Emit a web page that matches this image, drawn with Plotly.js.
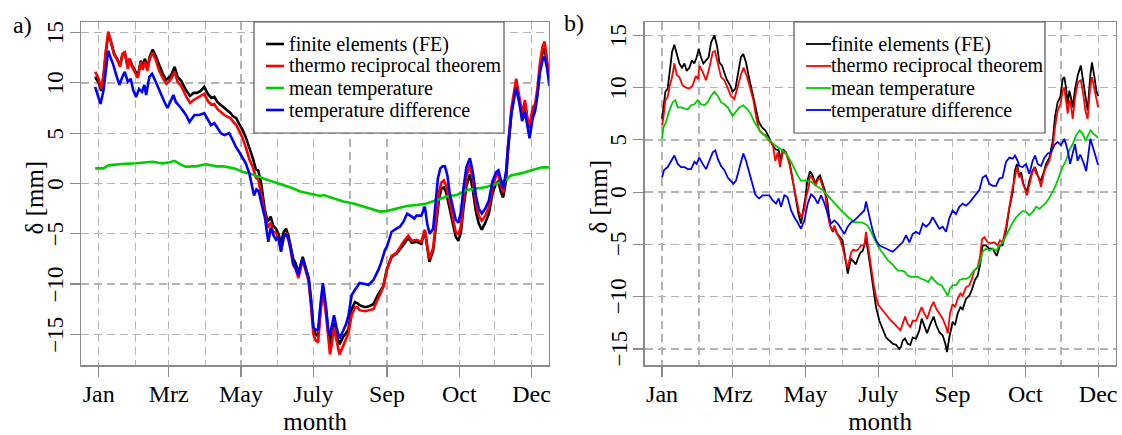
<!DOCTYPE html>
<html>
<head>
<meta charset="utf-8">
<script src="https://cdn.plot.ly/plotly-3.0.1.min.js"></script>
<style>
  html, body { margin: 0; padding: 0; background: #ffffff; }
  #chart { width: 1122px; height: 435px; }
</style>
</head>
<body>
<div id="chart"></div>
<script>
// Day-of-year axis: ticks at month starts, labels as printed on the axis
const monthTickDays = [0, 59, 120, 181, 243, 304, 365];
const monthTickText = ['Jan', 'Mrz', 'May', 'July', 'Sep', 'Oct', 'Dec'];
const monthGridDays = [31, 90, 151, 212, 273, 334];
const deltaTicks = [-15, -10, -5, 0, 5, 10, 15];
const deltaTickText = ['\u221215', '\u221210', '\u22125', '0', '5', '10', '15'];

const seriesNames = ['finite elements (FE)', 'thermo reciprocal theorem', 'mean temperature', 'temperature difference'];
const seriesColors = ['#000000', '#ff0000', '#00cd00', '#0000ff'];

// Panel a) deflection δ [mm] per day: [day, value]
const feA = [[-3,10.6],[0,10.0],[2,9.2],[4,10.5],[6,13.0],[8,14.8],[10,14.2],[13,12.9],[16,12.3],[18,11.7],[20,12.8],[22,13.0],[24.5,11.6],[26,12.4],[28,11.8],[30,11.3],[33,10.7],[35.5,12.2],[37,11.6],[39,12.4],[41,11.4],[43,12.6],[45.5,13.3],[48,12.7],[51,11.7],[54,10.9],[57,10.3],[60,10.6],[62,11.0],[64,11.6],[66.5,10.6],[69.5,10.2],[73.5,9.3],[77,8.7],[80,9.0],[83,9.0],[86,9.2],[89,9.6],[92,8.9],[95,8.5],[97.5,8.6],[100,8.1],[103,7.8],[106,7.5],[109,7.2],[111,7.0],[113,6.7],[116,6.5],[118.5,5.9],[121,5.4],[124,4.6],[127,3.6],[130,2.5],[132.5,1.4],[134.5,1.3],[137,0.0],[140,-2.6],[142.5,-3.8],[145,-3.3],[147,-4.2],[149.5,-4.5],[151.5,-5.0],[153.7,-5.9],[156,-4.8],[158,-4.5],[160,-5.2],[162,-6.2],[164,-7.5],[166,-7.9],[168.4,-8.9],[170,-8.2],[172,-7.3],[175,-8.6],[177,-9.4],[179,-11.7],[181,-14.4],[183,-15.0],[185,-15.2],[187,-12.5],[189,-10.3],[191.7,-12.7],[193.5,-15.0],[195,-16.2],[196.5,-15.0],[198.4,-13.9],[200.5,-15.0],[203,-16.0],[206.3,-15.2],[208.5,-14.9],[210.5,-14.5],[213.3,-12.5],[216,-11.8],[218,-11.9],[220,-12.1],[224.5,-12.3],[228,-12.2],[231.6,-12.0],[235.8,-11.0],[240,-10.2],[243,-8.5],[247,-7.3],[251,-7.0],[254,-6.6],[257,-6.1],[261,-5.4],[264,-5.9],[268,-5.8],[272,-6.0],[275,-4.7],[278.8,-7.8],[282,-6.7],[285,-3.6],[287,-1.5],[289,-0.5],[291,-0.4],[293,-0.9],[296,-2.5],[299,-4.3],[301,-5.3],[303.3,-5.7],[305.5,-4.8],[307.5,-2.5],[310,-0.3],[313,0.9],[315.5,-0.7],[318,-2.8],[320.5,-4.0],[323,-4.6],[326,-3.9],[329,-3.0],[332,-1.0],[335,0.0],[337,0.2],[339,-0.8],[341,-1.4],[343.5,0.3],[345,3.0],[348,7.0],[352,9.9],[355,8.0],[357,6.8],[359.4,7.9],[361.8,6.0],[363.3,5.5],[366,7.2],[368,7.6],[370,9.0],[372,11.4],[374.2,13.0],[376,13.4],[378,11.8],[380,10.3]];
const trA = [[-3,11.1],[0,10.4],[2,9.4],[4,10.7],[6,13.2],[8,15.1],[10,14.3],[13,12.8],[16,12.2],[18,11.6],[20,12.9],[22,13.1],[24.5,11.4],[26,12.4],[28,11.6],[30,11.1],[33,10.5],[35.5,12.1],[37,11.3],[39,12.1],[41,11.2],[43,12.4],[45.5,13.0],[48,12.3],[51,11.2],[54,10.5],[57,9.9],[60,10.2],[62,10.6],[64,11.1],[66.5,10.1],[69.5,9.7],[73.5,8.7],[77,8.0],[80,8.3],[83,8.5],[86,8.7],[89,8.9],[92,8.2],[95,7.8],[97.5,7.9],[100,7.4],[103,7.1],[106,6.8],[109,6.6],[111,6.5],[113,6.2],[116,5.8],[118.5,5.2],[121,4.6],[124,3.6],[127,2.4],[130,1.6],[132.5,0.6],[134.5,0.4],[137,-1.2],[140,-3.2],[142.5,-4.4],[145,-3.9],[147,-4.8],[149.5,-4.9],[151.5,-5.5],[153.7,-6.7],[156,-5.4],[158,-4.9],[160,-5.5],[162,-6.8],[164,-8.1],[166,-8.5],[168.4,-9.4],[170,-8.6],[172,-7.6],[175,-8.9],[177,-9.7],[179,-12.2],[181,-15.0],[183,-15.6],[185,-15.8],[187,-12.9],[189,-10.6],[191.7,-13.1],[193.5,-15.6],[195,-17.0],[196.5,-16.0],[198.4,-14.3],[200.5,-15.6],[203,-17.0],[206.3,-16.1],[208.5,-15.5],[210.5,-14.9],[213.3,-13.1],[216,-12.3],[218,-12.3],[220,-12.6],[224.5,-12.7],[228,-12.6],[231.6,-12.5],[235.8,-11.4],[240,-10.3],[243,-8.6],[247,-7.2],[251,-6.9],[254,-6.3],[257,-5.8],[261,-5.2],[264,-5.7],[268,-5.6],[272,-5.8],[275,-4.6],[278.8,-7.5],[282,-6.4],[285,-3.0],[287,-0.8],[289,0.1],[291,0.3],[293,-0.2],[296,-2.0],[299,-3.9],[301,-4.8],[303.3,-5.1],[305.5,-4.2],[307.5,-1.8],[310,0.6],[313,1.9],[315.5,0.3],[318,-2.0],[320.5,-3.2],[323,-3.7],[326,-3.2],[329,-2.4],[332,-0.4],[335,0.7],[337,1.0],[339,-0.2],[341,-0.9],[343.5,1.0],[345,3.6],[348,7.5],[352,10.4],[355,8.4],[357,7.0],[359.4,8.3],[361.8,6.3],[363.3,5.7],[366,7.6],[368,7.9],[370,9.5],[372,11.9],[374.2,13.6],[376,14.1],[378,12.4],[380,10.6]];
const meanA = [[-3,1.5],[0,1.5],[4,1.5],[8,1.8],[15,1.9],[22,1.95],[31.5,2.0],[38,2.05],[45.5,2.15],[50,2.05],[54,2.0],[60,2.1],[64,2.25],[68,1.95],[73.6,1.65],[78,1.7],[82,1.7],[86,1.8],[90.5,1.9],[95,1.8],[99,1.7],[105,1.7],[110,1.6],[114,1.5],[118.6,1.3],[123,1.1],[127,1.0],[131,0.8],[135.5,0.65],[140,0.45],[144,0.3],[148,0.15],[152,0.0],[158,-0.2],[163,-0.45],[169.8,-0.8],[178,-1.0],[187,-1.25],[189.4,-1.15],[198,-1.5],[206.3,-1.8],[214.7,-2.0],[223.2,-2.3],[231.6,-2.65],[237.2,-2.8],[242.8,-2.75],[251.3,-2.5],[259.7,-2.25],[268,-2.15],[276.6,-2.0],[285,-1.65],[293.4,-1.3],[301.8,-1.15],[310.3,-0.65],[318.7,-0.5],[327,-0.35],[335.6,0.0],[344,0.4],[347.4,0.8],[356,1.0],[365,1.3],[374,1.6],[380,1.6]];
const diffA = [[-3,9.6],[0,8.3],[1.5,7.9],[4,9.2],[6,11.5],[8,13.2],[10,12.5],[12,11.9],[14.5,10.9],[17.4,9.8],[20,10.6],[22,11.1],[24.5,10.1],[27,10.4],[29,9.3],[31.5,8.6],[34,9.4],[36.5,9.1],[38.5,9.8],[40,8.8],[42.7,10.6],[45,10.9],[47,10.4],[49.7,9.6],[52.6,8.8],[55.4,8.1],[58,7.5],[61,8.3],[63,8.8],[65,8.1],[69.4,7.5],[73.6,6.8],[76.5,6.1],[80.7,6.8],[85,6.8],[89,7.0],[92,6.3],[94.7,5.8],[97.5,6.0],[100,5.6],[103,5.0],[106,4.8],[110,5.0],[113,4.3],[115.8,3.6],[118.6,3.1],[121,2.6],[124,2.0],[127,1.0],[129,0.0],[131,-1.2],[133,-0.6],[135,-0.8],[137,-1.9],[140,-3.3],[143,-5.8],[145,-4.4],[147.5,-5.2],[149.5,-5.6],[151.5,-5.3],[153.7,-6.8],[156,-5.3],[158,-5.0],[160,-5.6],[162,-6.5],[164,-8.0],[166,-8.4],[168.4,-9.1],[170,-8.2],[172,-7.5],[175,-8.7],[177,-9.4],[179,-11.5],[181,-14.3],[183,-14.6],[185,-14.5],[187,-12.0],[189,-9.9],[191.7,-12.3],[193.5,-14.6],[195,-15.1],[196.5,-14.2],[198.4,-13.1],[200.5,-14.3],[203,-15.4],[206.3,-14.6],[208.5,-14.0],[210.5,-13.2],[213.3,-11.1],[216,-10.6],[218,-10.2],[220,-9.9],[224.5,-10.0],[227.4,-10.1],[231.6,-9.6],[235.8,-8.6],[238,-7.9],[241.4,-6.6],[243,-6.3],[247,-4.8],[251,-4.5],[254,-4.3],[257,-3.8],[260,-3.0],[264,-3.3],[266,-3.5],[268,-3.2],[272,-3.2],[275,-2.3],[277,-4.0],[279,-5.0],[282,-4.5],[284,-2.0],[286,0.5],[288,1.5],[290,1.7],[292,1.7],[294,0.8],[296,-1.0],[299,-2.6],[301,-3.6],[303.3,-3.9],[305.5,-2.8],[307.5,-0.5],[310,1.6],[313,2.5],[315.5,1.1],[318,-1.2],[320.5,-2.5],[323,-3.0],[326,-2.5],[329,-1.7],[332,0.2],[335,1.1],[337,1.3],[339,0.4],[341,-0.5],[343.5,1.2],[345,3.5],[348,7.0],[352,9.5],[355,7.8],[357,6.2],[359.4,7.1],[361.8,5.3],[363.3,4.5],[366,6.5],[368,7.2],[370,8.8],[372,11.0],[374.2,12.2],[376,12.6],[378,11.5],[380,9.7]];

// Panel b) deflection δ [mm] per day: [day, value]
const feB = [[0,7.0],[1,7.8],[2.8,9.6],[4.7,9.9],[6.7,11.6],[8.4,13.4],[10.3,14.1],[12.3,13.1],[14.5,12.3],[16.7,11.9],[18.7,12.3],[20.6,11.6],[22.9,11.9],[25,12.6],[27,12.3],[29,12.9],[30.7,13.7],[32.6,12.9],[34.6,12.3],[36.8,12.6],[39,12.9],[41,14.3],[43.8,15.0],[46,14.0],[48,12.4],[50.2,12.1],[52.2,11.5],[54,10.8],[57,10.2],[59,9.6],[61.4,9.9],[63.3,11.3],[66,12.9],[68,13.2],[70.3,12.4],[72.5,11.1],[74.5,10.0],[76.4,9.1],[78.7,7.8],[81,6.7],[83.7,6.2],[86.5,5.9],[89.3,5.3],[92,4.6],[94.8,4.1],[97.6,4.0],[99.6,3.0],[101,4.1],[103.8,3.8],[106.6,2.9],[109,1.4],[112,-0.5],[114,-2.0],[116.3,-3.0],[118,-2.0],[120,-0.5],[121.5,1.0],[123.8,2.0],[126,1.6],[128.3,0.8],[130.5,1.4],[132.2,1.6],[134.5,0.8],[136.7,0.0],[138.5,-1.0],[140.6,-3.2],[143,-3.8],[144.5,-3.3],[146,-3.9],[148.5,-4.3],[151,-4.6],[153,-6.0],[155.4,-7.8],[157,-6.9],[158.2,-6.4],[160,-6.6],[162.3,-6.9],[164,-6.3],[166,-5.8],[168,-5.6],[170.7,-4.5],[172.6,-5.8],[174.9,-7.5],[177,-9.4],[179.1,-11.0],[181.9,-12.3],[184.7,-13.2],[187.5,-13.9],[190.3,-14.2],[193,-14.5],[195.9,-14.6],[198.6,-15.0],[200,-14.8],[201.4,-14.2],[203.3,-14.0],[205.6,-14.5],[207.8,-14.6],[209.8,-13.9],[212.6,-14.0],[215.4,-13.2],[217.3,-12.1],[219.5,-12.9],[221.8,-13.5],[224.6,-12.6],[227.3,-11.9],[229.4,-12.7],[232.1,-13.4],[234.9,-13.7],[237.1,-14.5],[238.5,-15.3],[240.4,-13.9],[243.2,-12.4],[245.2,-12.7],[247.4,-11.6],[249.7,-11.0],[251.6,-11.2],[254.4,-10.2],[257.2,-9.9],[259.1,-9.4],[261.9,-8.4],[264.1,-8.0],[266.4,-6.8],[268.3,-5.1],[271.1,-5.1],[273.9,-5.4],[276.7,-5.4],[280.1,-6.1],[282.8,-5.1],[285,-5.1],[287.9,-3.7],[290.6,-1.6],[293.5,0.0],[295.4,2.1],[297,2.7],[299.1,1.5],[300.5,1.9],[302.4,0.8],[305.4,0.0],[307.4,1.1],[310.2,2.1],[312.2,2.4],[314.4,1.6],[316.6,1.0],[319.5,1.9],[321.4,2.7],[324.2,3.3],[327,4.9],[328.9,7.2],[331.1,8.6],[333.4,9.1],[335.3,10.8],[336.7,11.0],[338.1,10.0],[339.5,8.4],[340.9,9.7],[342.3,9.0],[343.7,8.1],[345.6,9.8],[348,11.2],[350.5,12.1],[352.5,10.7],[354.3,9.1],[356.2,7.8],[358.3,11.0],[359.8,12.4],[361.9,11.0],[363.5,9.7],[365,9.2]];
const trB = [[0,6.4],[1,7.0],[2.8,8.8],[4.7,9.1],[6.7,10.3],[8.4,11.0],[10.3,12.3],[12.3,11.2],[14.5,11.0],[17.2,10.2],[20,10.0],[22.9,9.9],[25.6,10.2],[28.3,11.1],[30.2,10.8],[31.3,12.1],[34,11.5],[36.8,10.7],[39.6,11.9],[42.4,13.4],[44.3,13.5],[46.6,12.3],[49.4,11.0],[52.2,10.7],[55,10.0],[57.7,9.2],[60.5,8.9],[63.3,10.2],[66.2,11.3],[68.3,11.9],[70.9,11.1],[73.6,10.0],[76.4,8.8],[78.7,7.2],[81.4,5.9],[84.2,5.6],[87,5.4],[89.8,4.9],[92.6,4.6],[94.8,3.0],[96.8,3.8],[98.7,2.4],[101,3.8],[103.8,3.7],[106.6,2.7],[109.4,1.1],[112,-0.5],[114.4,-1.75],[116.3,-2.4],[119,-1.75],[120.5,-0.5],[122.8,0.5],[123.8,1.6],[126,1.3],[128.3,0.6],[130.5,1.2],[132.2,1.3],[134.5,0.5],[136.7,-0.3],[138.6,-2.1],[140.6,-3.2],[142.8,-3.7],[144.2,-3.2],[147,-4.1],[149,-4.5],[151.2,-5.3],[153.4,-6.5],[155.4,-7.2],[158.2,-5.8],[160,-5.5],[162.3,-5.6],[164,-5.5],[166.5,-5.1],[169.3,-5.1],[170.7,-3.8],[172.6,-5.3],[174.9,-7.2],[177.1,-8.8],[179.1,-10.0],[181,-10.8],[183.3,-11.1],[186,-11.5],[188.9,-11.9],[191.7,-12.3],[194.5,-12.6],[197.2,-12.9],[199.4,-13.2],[201.4,-12.6],[203.4,-11.9],[205.6,-12.6],[207.8,-12.9],[209.8,-12.3],[212.6,-12.3],[215.4,-11.5],[217.3,-11.0],[219.5,-11.6],[221.8,-12.1],[225.1,-11.0],[227.3,-10.5],[229.3,-11.1],[232.1,-11.6],[234.9,-12.1],[237.7,-12.9],[239.1,-13.5],[241,-11.6],[243.2,-10.7],[245.2,-11.0],[247.4,-10.2],[249.7,-9.7],[251.6,-9.9],[254.4,-9.1],[257.2,-8.9],[259.1,-8.4],[261.4,-7.5],[264.1,-7.2],[266.1,-6.2],[267.8,-4.5],[269.7,-4.3],[272.5,-4.8],[275.3,-4.9],[278.1,-4.8],[280.9,-5.1],[282.8,-4.6],[285,-4.8],[287.9,-3.3],[290.6,-1.4],[293.5,0.5],[295.4,1.4],[297,2.4],[299,1.4],[300.5,1.6],[302,0.8],[303.5,0.4],[305.4,-0.3],[307.4,0.8],[309.6,1.75],[311.6,2.4],[313,1.8],[315,1.5],[317.2,0.5],[319.5,1.75],[321.4,2.4],[324.2,3.0],[326.9,4.3],[328.9,6.2],[331.1,7.8],[333.4,8.4],[335.3,9.7],[336.7,10.0],[338.1,8.4],[339.5,7.5],[340.9,8.8],[342.3,8.3],[343.7,7.0],[345.6,9.0],[348,10.5],[350.5,10.7],[352.5,9.4],[354.3,7.8],[356.2,7.0],[358.3,10.0],[359.8,11.0],[361.9,9.7],[363.5,8.8],[365,8.1]];
const meanB = [[0,5.1],[1.1,6.2],[3.3,6.7],[6.1,7.8],[8.9,8.6],[11.2,8.8],[13.1,8.1],[15.9,8.1],[18.7,8.0],[21.5,7.9],[24.3,8.3],[27.1,8.4],[29.8,8.8],[32.6,8.4],[35.4,8.3],[38.2,8.6],[41,9.2],[43.8,9.6],[46.6,9.2],[49.4,8.6],[52.2,8.4],[55,8.1],[59.1,7.3],[61.9,7.7],[64.7,8.1],[68,8.3],[71.7,7.9],[74.5,7.4],[77.3,6.7],[80.1,6.2],[82.8,5.7],[87,5.3],[91.2,4.8],[95.4,4.4],[99.6,4.1],[103.8,3.7],[108,2.9],[110.7,2.2],[113.5,1.6],[116.3,1.1],[120.5,1.1],[124.7,1.0],[128.9,0.6],[134.4,0.2],[140,-0.5],[145.6,-1.3],[151.2,-1.9],[156.8,-2.5],[161,-2.9],[163.9,-2.9],[166.5,-2.9],[169.3,-3.0],[172.1,-3.2],[174.9,-3.8],[177.7,-4.5],[180.5,-5.1],[183.3,-5.6],[186.2,-6.1],[189,-6.5],[191.8,-6.8],[194.6,-7.2],[197.4,-7.5],[200.2,-7.5],[203,-7.6],[205.8,-8.0],[208.7,-8.1],[211.5,-8.1],[214.3,-8.1],[217.1,-8.3],[219.9,-8.4],[222.8,-8.6],[225.6,-8.1],[228.4,-8.5],[231.2,-8.8],[234,-8.9],[236.8,-9.4],[239,-9.9],[241,-9.2],[243.4,-8.9],[246.2,-8.9],[249,-8.4],[251.9,-8.3],[254.7,-8.3],[257.5,-8.1],[260.3,-7.6],[263.1,-7.3],[265.9,-6.8],[268.3,-5.7],[271.2,-5.4],[274,-5.6],[276.8,-5.4],[279.6,-5.6],[282.3,-5.1],[285.1,-4.8],[288,-4.1],[290.7,-3.5],[293.5,-2.9],[296.3,-2.4],[299.1,-2.1],[301.8,-1.8],[304.7,-1.9],[307.5,-2.2],[310.3,-1.9],[313.1,-1.4],[315.9,-1.6],[318.6,-1.3],[321.5,-1.0],[324.3,-0.5],[327,0.0],[329,0.5],[331,1.1],[332.5,1.6],[335.3,2.4],[338.1,3.0],[340.9,4.0],[343.7,4.6],[346.4,5.4],[349.5,5.9],[352,5.6],[354.4,4.9],[356.5,5.4],[358.6,5.9],[361,5.6],[365,5.2]];
const diffB = [[0,1.4],[1.6,2.1],[4.7,2.4],[7.5,2.9],[10.3,3.5],[13.1,2.7],[15.9,2.4],[18.7,2.4],[21.5,2.2],[24.3,2.2],[27.1,2.9],[29,2.7],[31.2,3.3],[34,2.7],[36.8,2.2],[39.6,3.0],[42.4,3.8],[44.6,4.0],[46.6,3.2],[49.4,2.5],[52.2,2.1],[55,1.4],[57.7,1.1],[59.7,0.8],[61.9,1.1],[64.7,2.4],[68,3.7],[70.3,3.0],[73,1.9],[75.9,0.8],[78,-0.2],[80,-0.5],[81.4,-0.6],[84.2,-0.3],[87,-0.3],[89.8,-0.3],[92.6,-0.8],[95.4,-1.1],[97.6,-0.6],[99.6,-1.4],[102.4,-0.3],[105,-0.5],[108,-1.75],[110.7,-2.4],[113.5,-2.9],[116.3,-3.5],[119.1,-2.7],[121.9,-1.1],[124.7,-0.2],[127.5,-0.5],[130.3,-1.1],[133.1,-0.3],[136,-1.1],[138.6,-2.1],[141.4,-3.0],[144.2,-2.7],[147,-3.0],[149.8,-3.5],[152.6,-4.0],[155.4,-3.3],[158.2,-2.9],[161,-2.7],[163.9,-2.4],[166.5,-2.1],[169.3,-1.75],[170.7,-0.9],[173.5,-2.4],[176.3,-3.7],[179.1,-4.6],[181.9,-5.1],[184.7,-5.25],[187.5,-5.4],[190.3,-5.6],[193,-5.7],[195.9,-5.4],[198.6,-5.1],[201.4,-4.8],[204.2,-4.1],[207,-4.8],[209.8,-4.0],[212.6,-3.8],[215.4,-4.0],[218.2,-3.0],[221,-3.3],[223.8,-3.0],[226.5,-2.4],[229.4,-3.0],[232.1,-3.5],[234.9,-3.3],[237.7,-3.8],[240.4,-2.5],[243.2,-1.75],[246,-2.1],[248.8,-1.4],[251.6,-1.1],[254.4,-1.3],[257.2,-1.0],[260,-0.6],[262.8,-0.2],[265.6,0.2],[268.3,1.4],[271.1,1.6],[273.9,0.8],[276.7,0.6],[279.5,0.6],[282.3,1.3],[285,1.4],[287.9,2.9],[290.7,3.3],[293.5,3.2],[295.4,3.5],[297.6,3.0],[299,2.5],[301.8,2.4],[304.6,2.7],[307.4,1.75],[310.2,3.0],[312.2,3.5],[314.4,2.7],[317.2,2.5],[320,3.3],[322.8,3.7],[325.5,3.8],[328.3,4.5],[331.1,4.8],[333.9,4.5],[336.7,5.1],[339.5,4.0],[341.5,2.7],[343.5,3.7],[345.6,4.6],[347.8,3.0],[350,3.6],[352.5,2.9],[355,2.0],[358.5,5.1],[361.5,4.0],[365,2.6]];

const W = 1122, H = 435;
const px = x => x / W;
const py = y => 1 - y / H;
const FONT = '"Liberation Serif", "Times New Roman", "DejaVu Serif", serif';
const boxA = [81.4, 548.9];
const boxB = [644.6, 1115.6];

function lineTrace(pairs, idx, xa, ya, width) {
  return {
    type: 'scatter', mode: 'lines',
    x: pairs.map(p => p[0]), y: pairs.map(p => p[1]),
    xaxis: xa, yaxis: ya, name: seriesNames[idx], showlegend: false,
    line: { color: seriesColors[idx], width: width }, hoverinfo: 'skip'
  };
}

const traces = [
  lineTrace(feA, 0, 'x', 'y', 2.6), lineTrace(trA, 1, 'x', 'y', 2.6),
  lineTrace(meanA, 2, 'x', 'y', 2.6), lineTrace(diffA, 3, 'x', 'y', 2.6),
  lineTrace(feB, 0, 'x2', 'y2', 1.8), lineTrace(trB, 1, 'x2', 'y2', 1.8),
  lineTrace(meanB, 2, 'x2', 'y2', 1.8), lineTrace(diffB, 3, 'x2', 'y2', 1.8)
];

const frameColor = '#8a8a8a';
const gridStyle = { gridcolor: '#b4b4b4', gridwidth: 1.3, griddash: '8px,5px' };

function xAxis(box, anchor) {
  return Object.assign({
    domain: [box[0] / W, box[1] / W], anchor: anchor, range: [-14.6, 379.6],
    tickmode: 'array', tickvals: monthTickDays, ticktext: monthTickText,
    ticks: 'outside', ticklen: 10, tickwidth: 1.2, tickcolor: frameColor,
    ticklabelstandoff: -3,
    showline: true, linecolor: frameColor, linewidth: 1.5, mirror: true,
    showgrid: true, zeroline: false,
    tickfont: { family: FONT, size: 24, color: '#000' },
    minor: Object.assign({ tickmode: 'array', tickvals: monthGridDays, ticks: '', showgrid: true }, gridStyle),
    title: { text: 'month', font: { family: FONT, size: 25, color: '#000' }, standoff: 16 }
  }, gridStyle);
}

// y tick labels are drawn rotated (reading upwards) as annotations on the y scale
function yAxis(anchor, range) {
  return Object.assign({
    domain: [1 - 365 / H, 1 - 22 / H], anchor: anchor, range: range,
    tickmode: 'array', tickvals: deltaTicks, showticklabels: false,
    ticks: 'outside', ticklen: 10, tickwidth: 1.2, tickcolor: frameColor,
    showline: true, linecolor: frameColor, linewidth: 1.5, mirror: true,
    showgrid: true, zeroline: false
  }, gridStyle);
}

const shapes = [];
const annotations = [];

[['y', boxA], ['y2', boxB]].forEach(([yref, box]) => {
  deltaTicks.forEach((v, i) => {
    annotations.push({
      xref: 'paper', yref: yref, x: px(box[0] - 26), y: v,
      xanchor: 'center', yanchor: 'middle', textangle: -90, showarrow: false,
      text: deltaTickText[i], font: { family: FONT, size: 23, color: '#000' }
    });
  });
  annotations.push({
    xref: 'paper', yref: 'paper', x: px(box[0] - 47), y: py(197),
    xanchor: 'center', yanchor: 'middle', textangle: -90, showarrow: false,
    text: 'δ [mm]', font: { family: FONT, size: 25, color: '#000' }
  });
});

// Legend boxes, drawn per panel
const legendSpecs = [
  { box: [254, 504, 22, 133], line: [266, 284], textX: 288, width: 2.6 },
  { box: [794, 1045, 22, 133], line: [806, 831], textX: 830, width: 1.8 }
];
const rowY = [44, 66, 88, 110];

legendSpecs.forEach(spec => {
  shapes.push({
    type: 'rect', xref: 'paper', yref: 'paper', layer: 'above',
    x0: px(spec.box[0]), x1: px(spec.box[1]), y0: py(spec.box[3]), y1: py(spec.box[2]),
    line: { color: '#555555', width: 1.2 }, fillcolor: '#ffffff'
  });
  rowY.forEach((ry, i) => {
    shapes.push({
      type: 'line', xref: 'paper', yref: 'paper', layer: 'above',
      x0: px(spec.line[0]), x1: px(spec.line[1]), y0: py(ry), y1: py(ry),
      line: { color: seriesColors[i], width: spec.width }
    });
    annotations.push({
      xref: 'paper', yref: 'paper', x: px(spec.textX), y: py(ry),
      xanchor: 'left', yanchor: 'middle', showarrow: false, borderpad: 0,
      text: seriesNames[i], font: { family: FONT, size: 20, color: '#000' }
    });
  });
});

// Panel letters
annotations.push({ xref: 'paper', yref: 'paper', x: px(11), y: py(25), xanchor: 'left', yanchor: 'middle',
  showarrow: false, text: 'a)', font: { family: FONT, size: 24, color: '#000' } });
annotations.push({ xref: 'paper', yref: 'paper', x: px(562), y: py(23), xanchor: 'left', yanchor: 'middle',
  showarrow: false, text: 'b)', font: { family: FONT, size: 24, color: '#000' } });

const layout = {
  width: W, height: H,
  margin: { l: 0, r: 0, t: 0, b: 0 },
  paper_bgcolor: '#ffffff', plot_bgcolor: '#ffffff',
  showlegend: false,
  font: { family: FONT },
  xaxis: xAxis(boxA, 'y'),
  yaxis: yAxis('x', [-18.05, 16.05]),
  xaxis2: xAxis(boxB, 'y2'),
  yaxis2: yAxis('x2', [-16.53, 16.27]),
  shapes: shapes,
  annotations: annotations
};

Plotly.newPlot('chart', traces, layout, { staticPlot: true, displayModeBar: false });
</script>
</body>
</html>
